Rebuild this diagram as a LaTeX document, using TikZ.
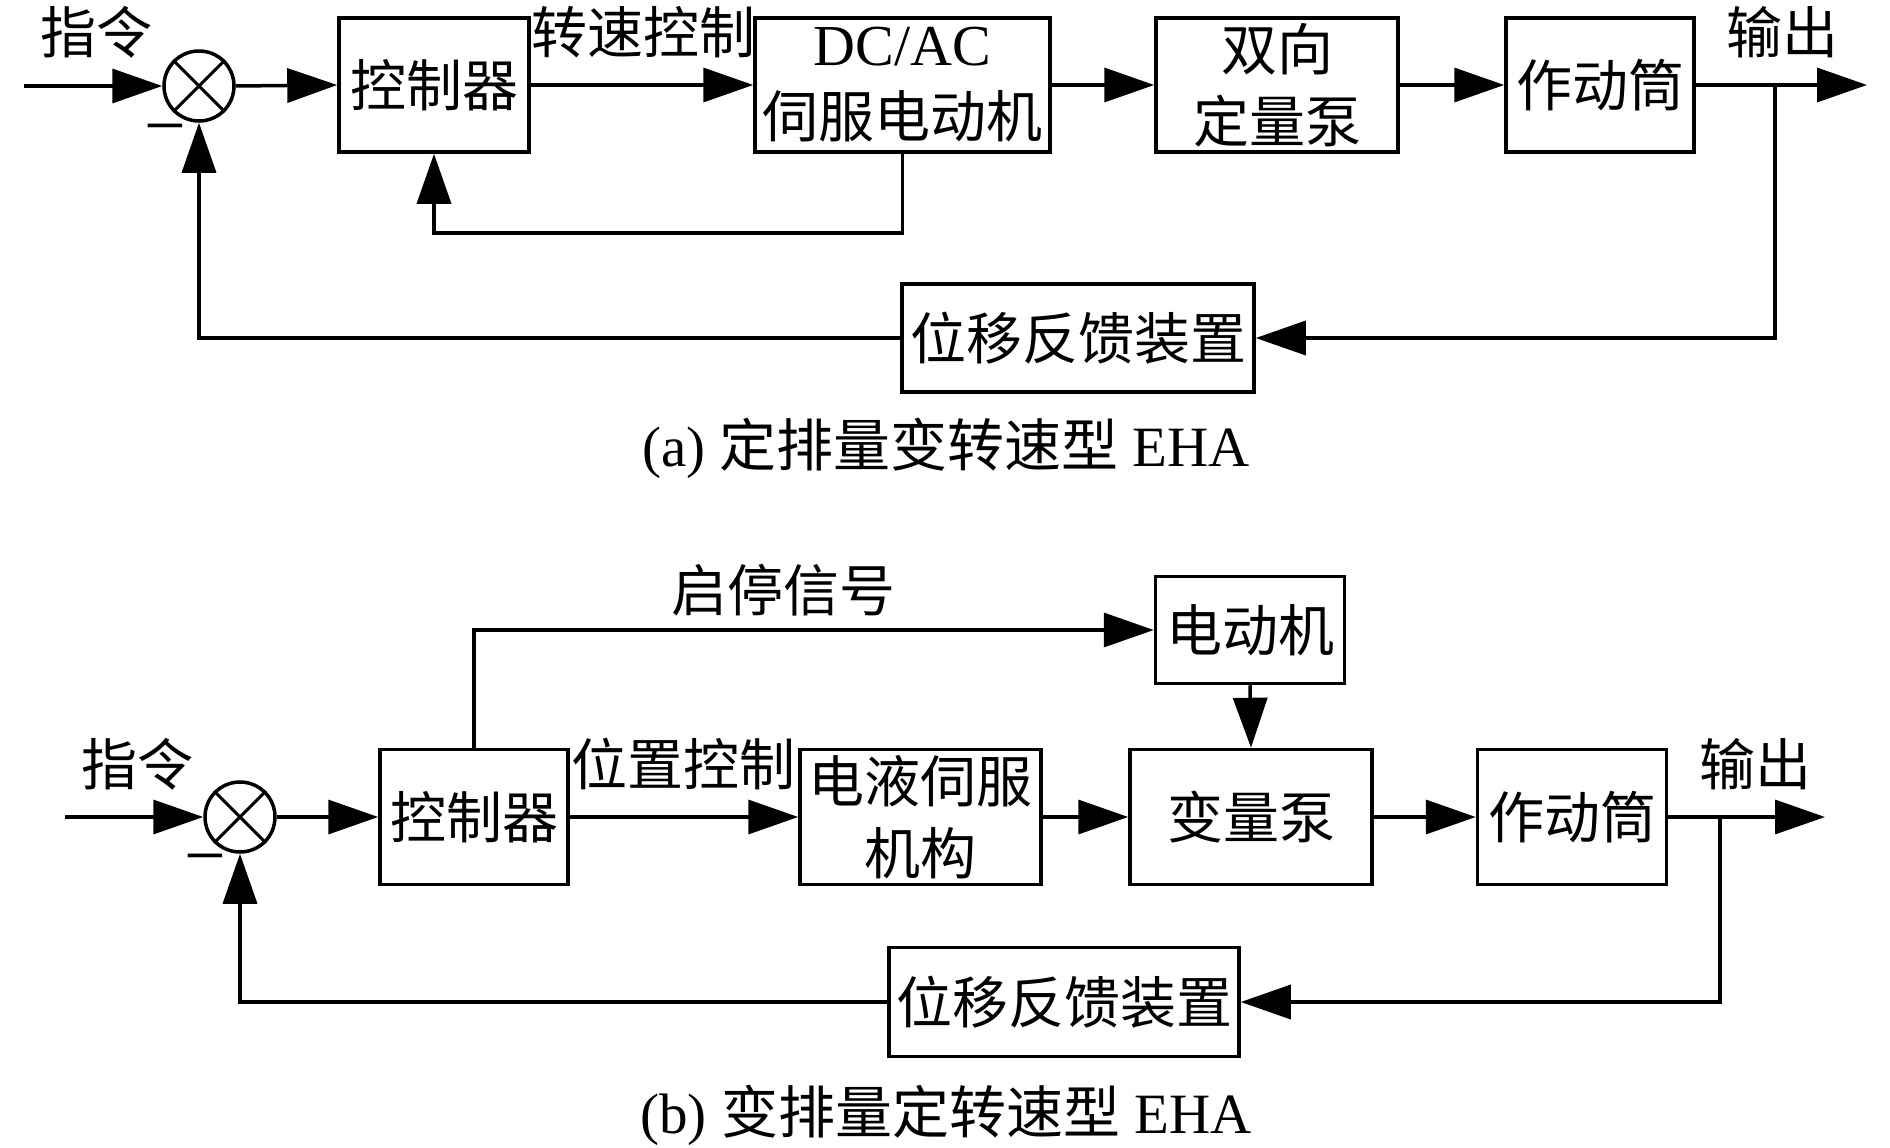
\documentclass[tikz,border=0pt]{standalone}
\usepackage{fontspec}
\setmainfont{Liberation Serif}
\newfontfamily\cjk{Noto Sans CJK SC}
\usetikzlibrary{arrows.meta}
\begin{document}
\begin{tikzpicture}[x=1pt,y=-1pt,
  line width=3.5pt,
  arr/.style={-{Triangle[length=50pt,width=34pt]}},
  blk/.style={draw,line width=3.5pt,inner sep=0pt,align=center,font=\cjk\fontsize{56}{72}\selectfont},
  lbl/.style={inner sep=0pt,font=\cjk\fontsize{56}{72}\selectfont},
  summ/.style={draw,circle,line width=3.5pt,minimum size=70pt,inner sep=0pt},
  captext/.style={inner sep=0pt,font=\fontsize{57}{68}\selectfont},
  negtext/.style={inner sep=0pt,font=\fontsize{74}{80}\selectfont}
]
\useasboundingbox (0,0) rectangle (1890,1148);
% ---------------- (a) ----------------
\node[summ] (sum1) at (199,86) {};
\draw[line width=3pt] (sum1.north east) -- (sum1.south west) (sum1.north west) -- (sum1.south east);
\node[blk,minimum width=190pt,minimum height=134pt] (ctrl1) at (434,85) {控制器};
\node[blk,minimum width=295pt,minimum height=134pt] (motor1) at (902.5,85) {{\rmfamily\fontsize{58}{72}\selectfont DC/AC}\\伺服电动机};
\node[blk,minimum width=242pt,minimum height=134pt] (pump1) at (1277,85) {双向\\定量泵};
\node[blk,minimum width=188pt,minimum height=134pt] (act1) at (1600,85) {作动筒};
\node[blk,minimum width=352pt,minimum height=108pt] (fb1) at (1078,338) {位移反馈装置};
\node[lbl] (cmd1) at (96,32) {指令};
\node[lbl] (spd1) at (643,32) {转速控制};
\node[lbl] (out1) at (1782,32) {输出};
\node[negtext] (neg1) at (165,137) {−};
\node[captext] (capa) at (946,448) {(a) {\cjk 定排量变转速型} EHA};
\coordinate (in1) at (24,86);
\coordinate (end1) at (1867,85);
\coordinate (br1) at (1775,85);
\draw[arr] (in1) -- (sum1.west);
\draw[arr] (sum1.east) -- (ctrl1.west);
\draw[arr] (ctrl1.east) -- (motor1.west);
\draw[arr] (motor1.east) -- (pump1.west);
\draw[arr] (pump1.east) -- (act1.west);
\draw[arr] (act1.east) -- (end1);
\draw[arr] (motor1.south) -- ++(0,79) -| (ctrl1.south);
\draw[arr] (br1) |- (fb1.east);
\draw[arr] (fb1.west) -| (sum1.south);
% ---------------- (b) ----------------
\node[summ] (sum2) at (240,817) {};
\draw[line width=3pt] (sum2.north east) -- (sum2.south west) (sum2.north west) -- (sum2.south east);
\node[blk,minimum width=188pt,minimum height=135pt] (ctrl2) at (474,817) {控制器};
\node[blk,minimum width=241pt,minimum height=135pt] (servo2) at (920.5,817) {电液伺服\\机构};
\node[blk,minimum width=189pt,minimum height=107pt] (motor2) at (1250,630) {电动机};
\node[blk,minimum width=242pt,minimum height=135pt] (pump2) at (1251,817) {变量泵};
\node[blk,minimum width=189pt,minimum height=135pt] (act2) at (1572,817) {作动筒};
\node[blk,minimum width=350pt,minimum height=109pt] (fb2) at (1064,1002) {位移反馈装置};
\node[lbl] (cmd2) at (137,764) {指令};
\node[lbl] (pos2) at (683,764) {位置控制};
\node[lbl] (ss2) at (783,590) {启停信号};
\node[lbl] (out2) at (1755,764) {输出};
\node[negtext] (neg2) at (205,867) {−};
\node[captext] (capb) at (946,1115) {(b) {\cjk 变排量定转速型} EHA};
\coordinate (in2) at (65,817);
\coordinate (end2) at (1825,817);
\coordinate (br2) at (1720,817);
\draw[arr] (in2) -- (sum2.west);
\draw[arr] (sum2.east) -- (ctrl2.west);
\draw[arr] (ctrl2.east) -- (servo2.west);
\draw[arr] (servo2.east) -- (pump2.west);
\draw[arr] (pump2.east) -- (act2.west);
\draw[arr] (act2.east) -- (end2);
\draw[arr] (ctrl2.north) |- (motor2.west);
\draw[arr] (motor2.south) -- (pump2.north);
\draw[arr] (br2) |- (fb2.east);
\draw[arr] (fb2.west) -| (sum2.south);
\end{tikzpicture}
\end{document}
